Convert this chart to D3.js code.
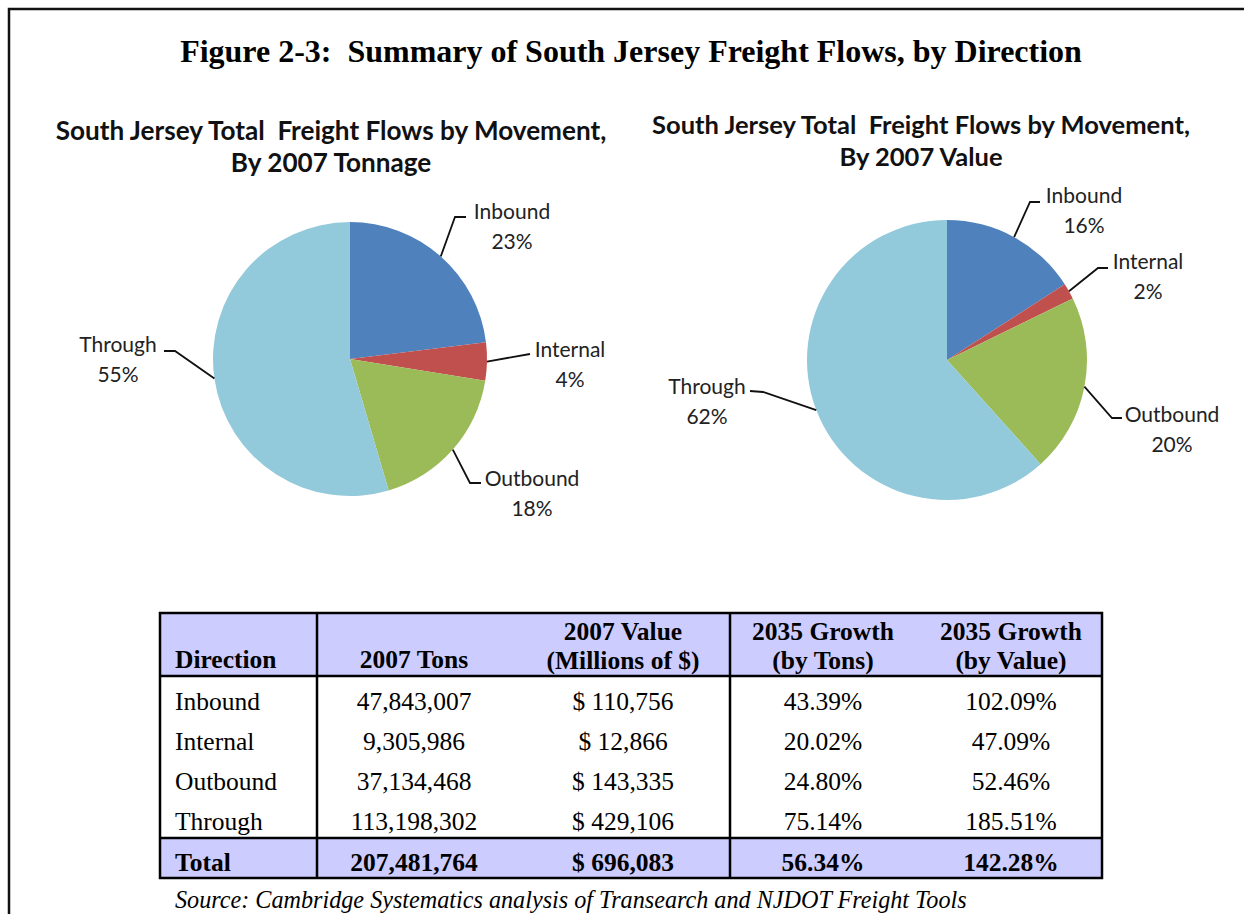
<!DOCTYPE html>
<html>
<head>
<meta charset="utf-8">
<script src="https://cdn.jsdelivr.net/npm/d3@7"></script>
<style>
  html, body { margin: 0; padding: 0; background: #fff; }
  svg { display: block; }
</style>
</head>
<body>
<svg id="chart" width="1244" height="914"></svg>
<script>
// ---------------- DATA ----------------
const directions = ["Inbound", "Internal", "Outbound", "Through"];
const tons2007 = [47843007, 9305986, 37134468, 113198302];
const value2007 = [110756, 12866, 143335, 429106];          // millions of $
const growthTons2035 = [43.39, 20.02, 24.80, 75.14];        // %
const growthValue2035 = [102.09, 47.09, 52.46, 185.51];     // %
const totalRow = { tons: 207481764, value: 696083, gTons: 56.34, gValue: 142.28 };
const tonnagePctLabels = ["23%", "4%", "18%", "55%"];
const valuePctLabels = ["16%", "2%", "20%", "62%"];
const sliceColors = ["#4F81BD", "#C0504D", "#9BBB59", "#93CADB"];

const figureTitle = "Figure 2-3:  Summary of South Jersey Freight Flows, by Direction";
const pieTitleLine1 = "South Jersey Total  Freight Flows by Movement,";
const tonnageTitle2 = "By 2007 Tonnage";
const valueTitle2 = "By 2007 Value";
const tableHeaders = [["Direction"], ["2007 Tons"], ["2007 Value", "(Millions of $)"], ["2035 Growth", "(by Tons)"], ["2035 Growth", "(by Value)"]];
const sourceNote = "Source: Cambridge Systematics analysis of Transearch and NJDOT Freight Tools";

// ---------------- SETUP ----------------
const svg = d3.select("#chart");
const serif = "'Liberation Serif', 'Times New Roman', serif";
const sans = "Lato, 'Open Sans', sans-serif";

function fit(sel, w) {
  const L = sel.node().getComputedTextLength();
  const fs = parseFloat(sel.attr("font-size"));
  sel.attr("font-size", fs * w / L);
}

// Outer frame
svg.append("path")
  .attr("d", "M9,914 L9,9 L1244,9")
  .attr("fill", "none").attr("stroke", "#111").attr("stroke-width", 2.5);

// Figure title
const ft = svg.append("text")
  .attr("x", 631).attr("y", 62)
  .attr("text-anchor", "middle")
  .attr("font-family", serif).attr("font-weight", "bold")
  .attr("font-size", 30).attr("fill", "#000")
  .style("white-space", "pre")
  .text(figureTitle);
fit(ft, 902);

// ---------------- PIES ----------------
function drawPie(cfg) {
  const g = svg.append("g").attr("transform", `translate(${cfg.cx},${cfg.cy})`);
  const pie = d3.pie().sort(null).value(d => d);
  const arcs = pie(cfg.values);
  const arc = d3.arc().innerRadius(0).outerRadius(cfg.r);
  g.selectAll("path.slice").data(arcs).join("path")
    .attr("class", "slice")
    .attr("d", arc)
    .attr("fill", (d, i) => sliceColors[i]);

  // Titles
  const t1 = svg.append("text")
    .attr("x", cfg.titleX).attr("y", cfg.titleY)
    .attr("text-anchor", "middle")
    .attr("font-family", sans).attr("font-weight", "bold")
    .attr("font-size", 22).attr("fill", "#111")
    .style("white-space", "pre")
    .text(pieTitleLine1);
  fit(t1, cfg.titleW);
  svg.append("text")
    .attr("x", cfg.titleX).attr("y", cfg.titleY + 32)
    .attr("text-anchor", "middle")
    .attr("font-family", sans).attr("font-weight", "bold")
    .attr("font-size", t1.attr("font-size")).attr("fill", "#111")
    .text(cfg.title2);

  // Labels with leader lines
  arcs.forEach((a, i) => {
    const mid = (a.startAngle + a.endAngle) / 2;
    const sx = Math.sin(mid) * cfg.r, sy = -Math.cos(mid) * cfg.r;
    const L = cfg.labels[i];
    const pts = [[sx, sy]].concat(L.pts.map(p => [p[0] - cfg.cx, p[1] - cfg.cy]));
    g.append("path")
      .attr("d", d3.line()(pts))
      .attr("fill", "none").attr("stroke", "#111").attr("stroke-width", 1.8);
    const tx = L.tx - cfg.cx, ty = L.ty - cfg.cy;
    g.append("text")
      .attr("x", tx).attr("y", ty).attr("dy", "0.35em")
      .attr("text-anchor", "middle")
      .attr("font-family", sans).attr("font-size", 21).attr("fill", "#222")
      .text(directions[i]);
    g.append("text")
      .attr("x", tx).attr("y", ty + 30).attr("dy", "0.35em")
      .attr("text-anchor", "middle")
      .attr("font-family", sans).attr("font-size", 21).attr("fill", "#222")
      .text(cfg.pctLabels[i]);
  });
}

drawPie({
  cx: 350, cy: 359, r: 137, values: tons2007, pctLabels: tonnagePctLabels,
  titleX: 331, titleY: 140, titleW: 551, title2: tonnageTitle2,
  labels: [
    { pts: [[455, 217], [466, 217]], tx: 512, ty: 212 },
    { pts: [[530, 354]], tx: 570, ty: 350 },
    { pts: [[470, 483], [481, 483]], tx: 532, ty: 479 },
    { pts: [[175, 351], [164, 351]], tx: 118, ty: 345 }
  ]
});

drawPie({
  cx: 947, cy: 360, r: 140, values: value2007, pctLabels: valuePctLabels,
  titleX: 921, titleY: 134, titleW: 538, title2: valueTitle2,
  labels: [
    { pts: [[1030, 202], [1040, 202]], tx: 1084, ty: 196 },
    { pts: [[1098, 268], [1108, 268]], tx: 1148, ty: 262 },
    { pts: [[1112, 418], [1122, 418]], tx: 1172, ty: 415 },
    { pts: [[763, 392], [750, 391]], tx: 707, ty: 387 }
  ]
});

// ---------------- TABLE ----------------
const tbl = { x0: 160, x1: 1102, y0: 613, yHead: 676, yTotal: 838, y1: 878 };
const colCenters = [null, 414, 623, 823, 1011];
const dirX = 175;
const rowY = d3.scalePoint().domain(directions).range([710, 830]);
const fmtInt = d3.format(",");
const fmtPct = v => d3.format(".2f")(v) + "%";
const fmtDol = v => "$ " + fmtInt(v);

// fills
svg.append("rect").attr("x", tbl.x0).attr("y", tbl.y0)
  .attr("width", tbl.x1 - tbl.x0).attr("height", tbl.yHead - tbl.y0).attr("fill", "#CCCCFF");
svg.append("rect").attr("x", tbl.x0).attr("y", tbl.yTotal)
  .attr("width", tbl.x1 - tbl.x0).attr("height", tbl.y1 - tbl.yTotal).attr("fill", "#CCCCFF");

// lines
const lines = [
  [tbl.x0, tbl.yHead, tbl.x1, tbl.yHead],
  [tbl.x0, tbl.yTotal, tbl.x1, tbl.yTotal],
  [317, tbl.y0, 317, tbl.y1],
  [730, tbl.y0, 730, tbl.y1]
];
svg.selectAll("line.grid").data(lines).join("line")
  .attr("class", "grid")
  .attr("x1", d => d[0]).attr("y1", d => d[1]).attr("x2", d => d[2]).attr("y2", d => d[3])
  .attr("stroke", "#000").attr("stroke-width", 2.5);
svg.append("rect").attr("x", tbl.x0).attr("y", tbl.y0)
  .attr("width", tbl.x1 - tbl.x0).attr("height", tbl.y1 - tbl.y0)
  .attr("fill", "none").attr("stroke", "#000").attr("stroke-width", 2.5);

function cell(x, y, txt, anchor, bold) {
  svg.append("text")
    .attr("x", x).attr("y", y)
    .attr("text-anchor", anchor)
    .attr("font-family", serif).attr("font-size", 25.5)
    .attr("font-weight", bold ? "bold" : "normal")
    .attr("fill", "#000")
    .text(txt);
}

// header
tableHeaders.forEach((h, j) => {
  const x = j === 0 ? dirX : colCenters[j];
  const anchor = j === 0 ? "start" : "middle";
  if (h.length === 1) cell(x, 668, h[0], anchor, true);
  else { cell(x, 640, h[0], anchor, true); cell(x, 669, h[1], anchor, true); }
});

// body rows
directions.forEach((d, i) => {
  const y = rowY(d);
  cell(dirX, y, d, "start", false);
  cell(colCenters[1], y, fmtInt(tons2007[i]), "middle", false);
  cell(colCenters[2], y, fmtDol(value2007[i]), "middle", false);
  cell(colCenters[3], y, fmtPct(growthTons2035[i]), "middle", false);
  cell(colCenters[4], y, fmtPct(growthValue2035[i]), "middle", false);
});

// total row
cell(dirX, 871, "Total", "start", true);
cell(colCenters[1], 871, fmtInt(totalRow.tons), "middle", true);
cell(colCenters[2], 871, fmtDol(totalRow.value), "middle", true);
cell(colCenters[3], 871, fmtPct(totalRow.gTons), "middle", true);
cell(colCenters[4], 871, fmtPct(totalRow.gValue), "middle", true);

// source
const src = svg.append("text")
  .attr("x", 175).attr("y", 908)
  .attr("font-family", serif).attr("font-style", "italic")
  .attr("font-size", 22).attr("fill", "#000")
  .text(sourceNote);
fit(src, 792);
</script>
</body>
</html>
